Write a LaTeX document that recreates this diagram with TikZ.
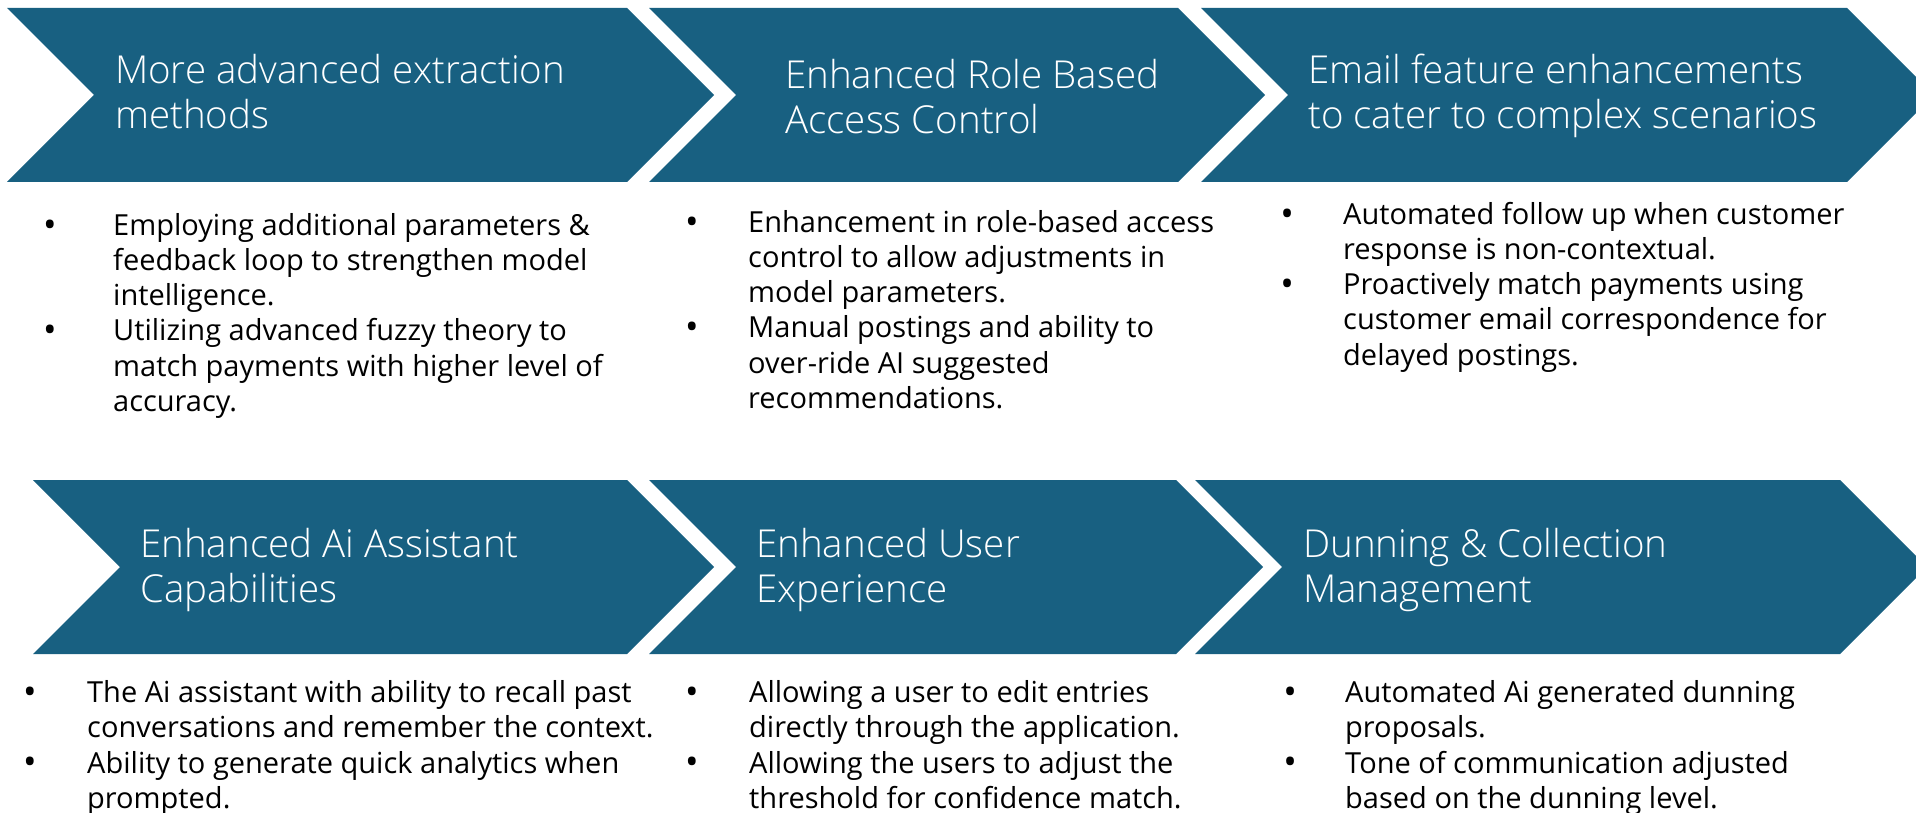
\documentclass[tikz,border=0pt]{standalone}
\usepackage{fontspec}
\setmainfont{Open Sans}
\IfFontExistsTF{Open Sans Light}
  {\newfontfamily\headfont{Open Sans Light}}
  {\newfontfamily\headfont{Open Sans}}
\definecolor{chevblue}{RGB}{24,96,129}
\tikzset{
  chev/.style    = {fill=chevblue},
  heading/.style = {anchor=north west, inner sep=0pt, align=left, text=white,
                    font=\headfont\fontsize{38.5}{45}\selectfont},
  itemtext/.style = {anchor=north west, inner sep=0pt, align=left,
                    font=\fontsize{29}{35.2}\selectfont},
  dotmark/.style = {anchor=base, inner sep=0pt, font=\fontsize{36}{36}\selectfont}
}
\begin{document}
\begin{tikzpicture}[x=1pt,y=-1pt]
  \clip (0,0) rectangle (1916,813);
  % top row of chevrons
  \fill[chev] (7,8) -- (627,8) -- (714,95) -- (627,182) -- (7,182) -- (94,95) -- cycle;
  \fill[chev] (649,8) -- (1178,8) -- (1265,95) -- (1178,182) -- (649,182) -- (736,95) -- cycle;
  \fill[chev] (1201,8) -- (1847,8) -- (1934,95) -- (1847,182) -- (1201,182) -- (1288,95) -- cycle;
  % bottom row of chevrons
  \fill[chev] (33,480) -- (627,480) -- (714,567) -- (627,654) -- (33,654) -- (120,567) -- cycle;
  \fill[chev] (649,480) -- (1176,480) -- (1263,567) -- (1176,654) -- (649,654) -- (736,567) -- cycle;
  \fill[chev] (1195,480) -- (1840,480) -- (1927,567) -- (1840,654) -- (1195,654) -- (1282,567) -- cycle;

  \node[heading] (head1) at (115,54)   {More advanced extraction\\methods};
  \node[heading] (head2) at (785,59)   {Enhanced Role Based\\Access Control};
  \node[heading] (head3) at (1308,54)  {Email feature enhancements\\to cater to complex scenarios};
  \node[heading] (head4) at (140,528)  {Enhanced Ai Assistant\\Capabilities};
  \node[heading] (head5) at (756,528)  {Enhanced User\\Experience};
  \node[heading] (head6) at (1303,528) {Dunning \& Collection\\Management};

  % bullets, top row
  \node[dotmark] (dot1a) at (50,237)     {•};
  \node[itemtext] (item1a) at (113,213)  {Employing additional parameters \&\\feedback loop to strengthen model\\intelligence.};
  \node[dotmark] (dot1b) at (50,342.6)   {•};
  \node[itemtext] (item1b) at (113,318.6) {Utilizing advanced fuzzy theory to\\match payments with higher level of\\accuracy.};
  \node[dotmark] (dot2a) at (692,234)    {•};
  \node[itemtext] (item2a) at (748,210)  {Enhancement in role-based access\\control to allow adjustments in\\model parameters.};
  \node[dotmark] (dot2b) at (692,339.6)  {•};
  \node[itemtext] (item2b) at (748,315.6) {Manual postings and ability to\\over-ride AI suggested\\recommendations.};
  \node[dotmark] (dot3a) at (1287,226)   {•};
  \node[itemtext] (item3a) at (1343,202) {Automated follow up when customer\\response is non-contextual.};
  \node[dotmark] (dot3b) at (1287,296.4) {•};
  \node[itemtext] (item3b) at (1343,272.4) {Proactively match payments using\\customer email correspondence for\\delayed postings.};

  % bullets, bottom row
  \node[dotmark] (dot4a) at (30,704.5)   {•};
  \node[itemtext] (item4a) at (87,680.5)  {The Ai assistant with ability to recall past\\conversations and remember the context.};
  \node[dotmark] (dot4b) at (30,774.9)   {•};
  \node[itemtext] (item4b) at (87,750.9)  {Ability to generate quick analytics when\\prompted.};
  \node[dotmark] (dot5a) at (692,704.5)  {•};
  \node[itemtext] (item5a) at (749,680.5) {Allowing a user to edit entries\\directly through the application.};
  \node[dotmark] (dot5b) at (692,774.9)  {•};
  \node[itemtext] (item5b) at (749,750.9) {Allowing the users to adjust the\\threshold for confidence match.};
  \node[dotmark] (dot6a) at (1290,704.5) {•};
  \node[itemtext] (item6a) at (1345,680.5) {Automated Ai generated dunning\\proposals.};
  \node[dotmark] (dot6b) at (1290,774.9) {•};
  \node[itemtext] (item6b) at (1345,750.9) {Tone of communication adjusted\\based on the dunning level.};
\end{tikzpicture}
\end{document}
